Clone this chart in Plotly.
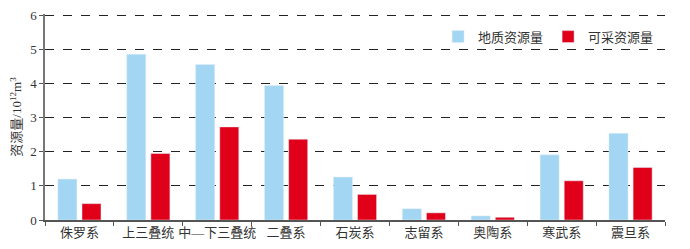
import plotly.graph_objects as go

categories = ["侏罗系", "上三叠统", "中—下三叠统", "二叠系", "石炭系", "志留系", "奥陶系", "寒武系", "震旦系"]
geo_resources = [1.20, 4.86, 4.56, 3.94, 1.26, 0.33, 0.12, 1.91, 2.54]
recoverable = [0.48, 1.95, 2.73, 2.37, 0.75, 0.21, 0.08, 1.15, 1.54]
y_ticks = [0, 1, 2, 3, 4, 5, 6]

cjk = "Liberation Serif, Noto Sans CJK SC"
fig = go.Figure()
fig.add_trace(go.Bar(x=categories, y=geo_resources, name="地质资源量", marker_color="#a3d6f2"))
fig.add_trace(go.Bar(x=categories, y=recoverable, name="可采资源量", marker_color="#e1001a"))

fig.update_layout(
    width=682, height=241,
    margin=dict(l=37, r=25, t=6, b=29, autoexpand=False),
    paper_bgcolor="white", plot_bgcolor="white",
    barmode="group", bargap=0.30, bargroupgap=0.21,
    font=dict(family=cjk, color="#333333", size=12),
    legend=dict(orientation="h", x=0.634, y=0.89, xanchor="left", yanchor="middle",
                font=dict(size=13, family=cjk), bgcolor="rgba(0,0,0,0)"),
    xaxis=dict(showline=True, linecolor="#555555", linewidth=1.5, ticks="outside",
               tickson="boundaries", ticklen=4, tickcolor="#555555", tickangle=0,
               automargin=False,
               tickfont=dict(size=13, family=cjk), showgrid=False),
    yaxis=dict(range=[0, 6.04], tickvals=y_ticks, showline=True, linecolor="#777777", linewidth=1.5,
               ticks="outside", ticklen=4, tickcolor="#555555", automargin=False,
               ticklabeloverflow="allow",
               showgrid=True, gridcolor="#222222", griddash="dash", gridwidth=1,
               zeroline=False, tickfont=dict(size=13, family="Liberation Serif"),
               title=dict(text="资源量/10<sup>12</sup>m<sup>3</sup>", font=dict(size=13, family=cjk), standoff=9)),
)
fig.write_html("out.html")
